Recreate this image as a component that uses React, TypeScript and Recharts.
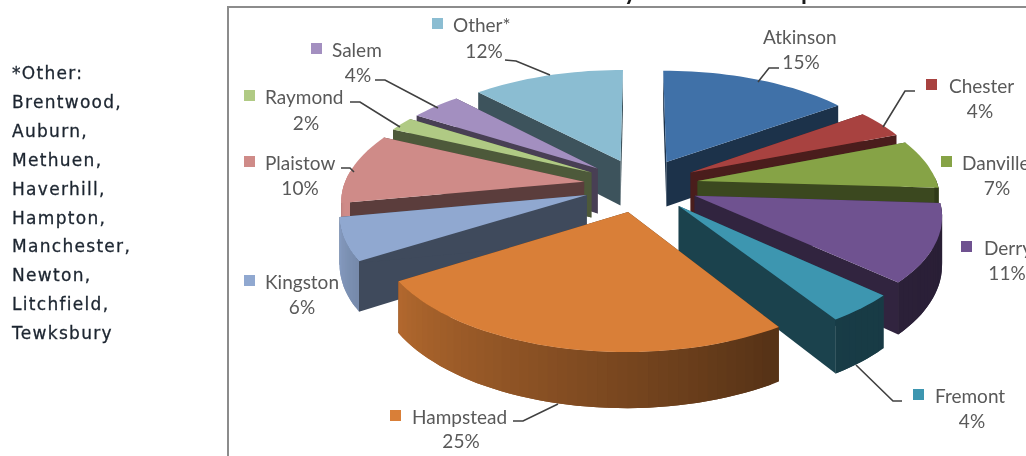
import { Cell, Pie, PieChart } from 'recharts'

const towns = ['Atkinson', 'Chester', 'Danville', 'Derry', 'Fremont', 'Hampstead', 'Kingston', 'Plaistow', 'Raymond', 'Salem', 'Other*']
const shares = [15, 4, 7, 11, 4, 25, 6, 10, 2, 4, 12]
const otherTowns = ['*Other:', 'Brentwood,', 'Auburn,', 'Methuen,', 'Haverhill,', 'Hampton,', 'Manchester,', 'Newton,', 'Litchfield,', 'Tewksbury']

// back slices get painted first, so the front ones cover them
const paintOrder = ['Other*', 'Atkinson', 'Salem', 'Chester', 'Raymond', 'Danville', 'Plaistow', 'Derry', 'Kingston', 'Fremont', 'Hampstead']

const colors: Record<string, string> = {
  Atkinson: '#4071a8',
  Chester: '#a84240',
  Danville: '#86a346',
  Derry: '#6f5290',
  Fremont: '#3d96b0',
  Hampstead: '#d97f38',
  Kingston: '#90a8d0',
  Plaistow: '#cf8b88',
  Raymond: '#b0ca84',
  Salem: '#a38fc0',
  'Other*': '#8bbdd2',
}

// label layout: text start x, name y, percent centre x, percent y, marker x, leader line
type LabelSpot = { x: number; y: number; pctX: number; pctY: number; marker?: number; line?: number[][] }
const labelSpots: Record<string, LabelSpot> = {
  Atkinson: { x: 763, y: 36, pctX: 801, pctY: 61, line: [[779, 68], [769, 68], [758, 82]] },
  Chester: { x: 949, y: 85, pctX: 980, pctY: 110, marker: 926, line: [[915, 91], [905, 91], [883, 127]] },
  Danville: { x: 962, y: 162, pctX: 997, pctY: 187, marker: 941 },
  Derry: { x: 984, y: 247, pctX: 1007, pctY: 272, marker: 961 },
  Fremont: { x: 935, y: 395, pctX: 972, pctY: 420, marker: 913, line: [[902, 401], [893, 401], [856, 365]] },
  Hampstead: { x: 412, y: 416, pctX: 461, pctY: 440, marker: 390, line: [[513, 421], [523, 421], [558, 404]] },
  Kingston: { x: 265, y: 281, pctX: 302, pctY: 306, marker: 244 },
  Plaistow: { x: 265, y: 162, pctX: 300, pctY: 187, marker: 244, line: [[341, 168], [350, 168], [354, 172]] },
  Raymond: { x: 265, y: 96, pctX: 306, pctY: 122, marker: 244, line: [[350, 102], [360, 102], [400, 127]] },
  Salem: { x: 332, y: 49, pctX: 358, pctY: 74, marker: 311, line: [[375, 80], [385, 80], [438, 108]] },
  'Other*': { x: 453, y: 24, pctX: 484, pctY: 50, marker: 432, line: [[505, 60], [516, 61], [550, 75]] },
}

const tableData = towns.map((name, i) => ({ name, value: shares[i] }))

const RAD = Math.PI / 180
const EXPLODE = 0.24
const TILT = 0.462
const CAMERA = 6.83
const DEPTH = 46

function shade(hex: string, k: number) {
  const n = parseInt(hex.slice(1), 16)
  const part = (v: number) => Math.round(v * k)
  return `rgb(${part((n >> 16) & 255)},${part((n >> 8) & 255)},${part(n & 255)})`
}

// rim gets lighter towards the left of the pie
function rimLight(theta: number) {
  const stops = [[90, 0.36], [150, 0.4], [180, 0.55], [238, 0.82], [270, 1]]
  for (let i = 1; i < stops.length; i++) {
    if (theta <= stops[i][0]) {
      const t = (theta - stops[i - 1][0]) / (stops[i][0] - stops[i - 1][0])
      return stops[i - 1][1] + t * (stops[i][1] - stops[i - 1][1])
    }
  }
  return 1
}

function Slice3D(props: any) {
  const { cx, cy, outerRadius, startAngle, endAngle, midAngle, fill } = props
  const from = 90 - startAngle
  const to = 90 - endAngle
  const mid = 90 - midAngle

  // plane coords -> screen, perspective grows towards the viewer
  const project = (theta: number, r: number, drop: number) => {
    const u = EXPLODE * Math.sin(mid * RAD) + r * Math.sin(theta * RAD)
    const v = -EXPLODE * Math.cos(mid * RAD) - r * Math.cos(theta * RAD)
    const s = 1 / (1 - v / CAMERA)
    return [cx + outerRadius * u * s, cy + outerRadius * TILT * v * s + drop * s]
  }
  const poly = (pts: number[][]) => pts.map((p) => `${p[0].toFixed(1)},${p[1].toFixed(1)}`).join(' ')

  const steps = Math.max(2, Math.ceil((to - from) / 2))
  const arc: number[] = []
  for (let i = 0; i <= steps; i++) arc.push(from + ((to - from) * i) / steps)

  const wallColor = shade(fill, 0.44)
  const rim = []
  for (let i = 0; i < steps; i++) {
    const a = arc[i]
    const b = arc[i + 1]
    if (b < 88 || a > 272) continue
    // each band runs on under the next one, that hides the seams
    const end = arc[Math.min(i + 2, steps)]
    const band = [project(a, 1, 0), project(b, 1, 0), project(end, 1, 0), project(end, 1, DEPTH), project(b, 1, DEPTH), project(a, 1, DEPTH)]
    rim.push(<polygon key={i} points={poly(band)} fill={shade(fill, rimLight((a + b) / 2))} />)
  }

  return (
    <g>
      <polygon points={poly([project(from, 0, 0), project(from, 1, 0), project(from, 1, DEPTH), project(from, 0, DEPTH)])} fill={wallColor} />
      <polygon points={poly([project(to, 0, 0), project(to, 1, 0), project(to, 1, DEPTH), project(to, 0, DEPTH)])} fill={wallColor} />
      {rim}
      <polygon points={poly([project(from, 0, 0), ...arc.map((t) => project(t, 1, 0))])} fill={fill} />
    </g>
  )
}

function TownLabel(props: any) {
  const spot = labelSpots[props.name]
  if (!spot) return null
  return (
    <g fontFamily="Lato, sans-serif" fontSize={19} fill="#595959">
      {spot.line && <polyline points={spot.line.map((p) => p.join(',')).join(' ')} fill="none" stroke="#404040" strokeWidth={1.6} />}
      {spot.marker !== undefined && <rect x={spot.marker} y={spot.y - 6} width={11} height={11} fill={colors[props.name]} />}
      <text x={spot.x} y={spot.y} dominantBaseline="central">
        {props.name}
      </text>
      <text x={spot.pctX} y={spot.pctY} textAnchor="middle" dominantBaseline="central">
        {props.value}%
      </text>
    </g>
  )
}

export default function App() {
  return (
    <div style={{ position: 'absolute', left: 0, top: 0, width: 1026, height: 456, overflow: 'hidden', background: '#fff', filter: 'blur(0.7px)' }}>
      <div style={{ position: 'absolute', left: 227, top: 6, width: 900, height: 600, border: '2px solid #8c8c8c', boxSizing: 'border-box' }} />
      {/* title is cut off by the crop, only two descenders show */}
      <div style={{ position: 'absolute', left: 624, top: -23, fontFamily: 'Lato, sans-serif', fontWeight: 700, fontSize: 24, lineHeight: '28px', color: '#1a1a1a' }}>y</div>
      <div style={{ position: 'absolute', left: 801, top: -23, fontFamily: 'Lato, sans-serif', fontWeight: 700, fontSize: 24, lineHeight: '28px', color: '#1a1a1a' }}>p</div>
      <div style={{ position: 'absolute', left: 12, top: 59, fontFamily: 'DejaVu Sans, sans-serif', fontSize: 17, letterSpacing: 1.3, WebkitTextStroke: '0.3px #1c2530', lineHeight: '28.9px', color: '#1c2530' }}>
        {otherTowns.map((t) => (
          <div key={t}>{t}</div>
        ))}
      </div>
      <div style={{ position: 'absolute', left: 0, top: 0 }}>
        <PieChart width={1026} height={456} margin={{ top: 0, right: 0, bottom: 0, left: 0 }}>
          {paintOrder.map((town, layer) => (
            <Pie
              key={town}
              data={tableData}
              dataKey="value"
              nameKey="name"
              cx={641}
              cy={185}
              outerRadius={240}
              startAngle={90}
              endAngle={-270}
              stroke="none"
              isAnimationActive={false}
              shape={(p: any) => (p.name === town ? <Slice3D {...p} /> : <g />)}
              label={layer === paintOrder.length - 1 ? TownLabel : false}
              labelLine={false}
            >
              {towns.map((t) => (
                <Cell key={t} fill={colors[t]} />
              ))}
            </Pie>
          ))}
        </PieChart>
      </div>
    </div>
  )
}
